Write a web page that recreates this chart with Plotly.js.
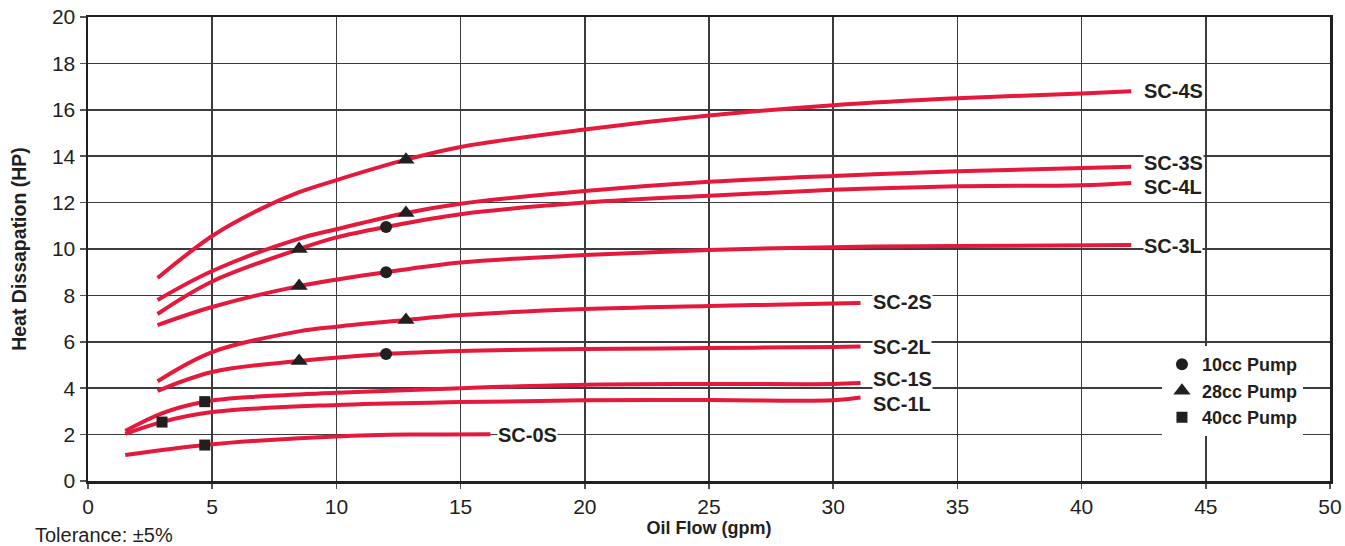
<!DOCTYPE html>
<html>
<head>
<meta charset="utf-8">
<script src="https://cdn.plot.ly/plotly-3.0.1.min.js"></script>
<style>html,body{margin:0;padding:0;background:#fff;}#chart{width:1345px;height:546px;}</style>
</head>
<body>
<div id="chart"></div>
<script>
// Curves (Oil Flow gpm -> Heat Dissipation HP)
const sc4sX = [2.8, 5, 7, 8.5, 10, 12.8, 15, 20, 25, 30, 35, 40, 42];
const sc4sY = [8.75, 10.56, 11.75, 12.45, 12.97, 13.85, 14.4, 15.15, 15.75, 16.2, 16.5, 16.7, 16.8];
const sc3sX = [2.8, 5, 8.5, 10, 12.8, 15, 20, 25, 30, 35, 42];
const sc3sY = [7.8, 9.05, 10.45, 10.85, 11.55, 11.95, 12.5, 12.9, 13.15, 13.35, 13.55];
const sc4lX = [2.8, 5, 8.5, 10, 12, 15, 20, 25, 30, 35, 40, 42];
const sc4lY = [7.2, 8.6, 10.0, 10.5, 10.95, 11.5, 12.0, 12.3, 12.55, 12.7, 12.75, 12.85];
const sc3lX = [2.8, 5, 8.5, 12, 15, 20, 25, 30, 35, 42];
const sc3lY = [6.72, 7.5, 8.4, 9.0, 9.42, 9.74, 9.96, 10.08, 10.13, 10.17];
const sc2sX = [2.8, 5, 8.5, 10, 12.8, 15, 20, 25, 30, 31.1];
const sc2sY = [4.3, 5.56, 6.45, 6.65, 6.94, 7.15, 7.41, 7.54, 7.65, 7.67];
const sc2lX = [2.8, 5, 8.5, 12, 15, 20, 25, 30, 31.1];
const sc2lY = [3.88, 4.7, 5.17, 5.47, 5.6, 5.69, 5.73, 5.78, 5.8];
const sc1sX = [1.5, 3, 4.7, 7, 10, 15, 20, 25, 30, 31.1];
const sc1sY = [2.16, 2.93, 3.42, 3.65, 3.8, 4.0, 4.15, 4.18, 4.18, 4.22];
const sc1lX = [1.5, 3, 5, 10, 15, 20, 25, 30, 31.1];
const sc1lY = [2.03, 2.55, 2.97, 3.28, 3.4, 3.48, 3.49, 3.48, 3.6];
const sc0sX = [1.5, 4.7, 7, 10, 13, 16.2];
const sc0sY = [1.12, 1.55, 1.75, 1.92, 2.0, 2.02];

// Curve labels
const curveNames = ["SC-4S", "SC-3S", "SC-4L", "SC-3L", "SC-2S", "SC-2L", "SC-1S", "SC-1L", "SC-0S"];
const labelX = [42.47, 42.47, 42.47, 42.47, 31.57, 31.57, 31.57, 31.57, 16.47];
const labelY = [16.81, 13.72, 12.66, 10.13, 7.72, 5.78, 4.4, 3.33, 1.98];

// Pump markers
const pump10X = [12, 12, 12];
const pump10Y = [10.95, 9.0, 5.47];
const pump28X = [12.8, 12.8, 8.5, 8.5, 12.8, 8.5];
const pump28Y = [13.85, 11.55, 10.0, 8.4, 6.94, 5.17];
const pump40X = [4.7, 2.98, 4.7];
const pump40Y = [3.42, 2.54, 1.55];

const RED = '#e4193c';
const INK = '#231f20';
const FAM = 'Liberation Sans, Arial, sans-serif';
const curveX = [sc4sX, sc3sX, sc4lX, sc3lX, sc2sX, sc2lX, sc1sX, sc1lX, sc0sX];
const curveY = [sc4sY, sc3sY, sc4lY, sc3lY, sc2sY, sc2lY, sc1sY, sc1lY, sc0sY];

const traces = curveNames.map((n, i) => ({
  type: 'scatter', mode: 'lines', name: n, x: curveX[i], y: curveY[i],
  line: {color: RED, width: 4, shape: 'spline', smoothing: 1},
  showlegend: false, hoverinfo: 'x+y+name'
}));
traces.push({type: 'scatter', mode: 'markers', name: '10cc Pump', x: pump10X, y: pump10Y,
  marker: {symbol: 'circle', size: 12, color: INK}});
traces.push({type: 'scatter', mode: 'markers', name: '28cc Pump', x: pump28X, y: pump28Y,
  marker: {symbol: 'triangle-up', size: 15, color: INK}});
traces.push({type: 'scatter', mode: 'markers', name: '40cc Pump', x: pump40X, y: pump40Y,
  marker: {symbol: 'square', size: 11, color: INK}});

const annotations = curveNames.map((n, i) => ({
  x: labelX[i], y: labelY[i], xref: 'x', yref: 'y', text: n, showarrow: false,
  xanchor: 'left', yanchor: 'middle', bgcolor: '#ffffff', borderpad: 0,
  font: {family: FAM, size: 20, weight: 700, color: INK}
}));
annotations.push({
  x: -0.044, y: -0.1165, xref: 'paper', yref: 'paper', text: 'Tolerance: ±5%', showarrow: false,
  xanchor: 'left', yanchor: 'middle',
  font: {family: FAM, size: 20, color: INK}
});

const baseFont = {family: FAM, size: 21, color: INK};

const layout = {
  width: 1345, height: 546,
  margin: {l: 88, r: 15, t: 17, b: 65},
  paper_bgcolor: '#ffffff', plot_bgcolor: '#ffffff',
  font: baseFont,
  showlegend: true,
  legend: {
    x: 0.8647, y: 0.2906, xanchor: 'left', yanchor: 'top',
    bgcolor: '#ffffff', borderwidth: 0, tracegroupgap: 0, itemwidth: 30,
    font: {family: FAM, size: 18, weight: 700, color: INK}
  },
  xaxis: {
    range: [0, 50], tickmode: 'linear', tick0: 0, dtick: 5,
    ticks: 'outside', ticklen: 5, tickwidth: 1.5, tickcolor: '#555',
    showgrid: true, gridcolor: '#3c3c3c', gridwidth: 1.5, zeroline: false,
    showline: true, linecolor: INK, linewidth: 2.5, mirror: true,
    tickfont: baseFont,
    title: {text: 'Oil Flow (gpm)', standoff: 4,
      font: {family: FAM, size: 18, weight: 700, color: INK}}
  },
  yaxis: {
    range: [0, 20], tickmode: 'linear', tick0: 0, dtick: 2,
    ticks: 'outside', ticklen: 6, tickwidth: 1.5, tickcolor: '#555',
    showgrid: true, gridcolor: '#3c3c3c', gridwidth: 1.5, zeroline: false,
    showline: true, linecolor: INK, linewidth: 2.5, mirror: true,
    tickfont: baseFont,
    title: {text: 'Heat Dissapation (HP)', standoff: 20,
      font: {family: FAM, size: 19.5, weight: 700, color: INK}}
  },
  annotations: annotations
};

Plotly.newPlot('chart', traces, layout, {displayModeBar: false, staticPlot: true});
</script>
</body>
</html>
